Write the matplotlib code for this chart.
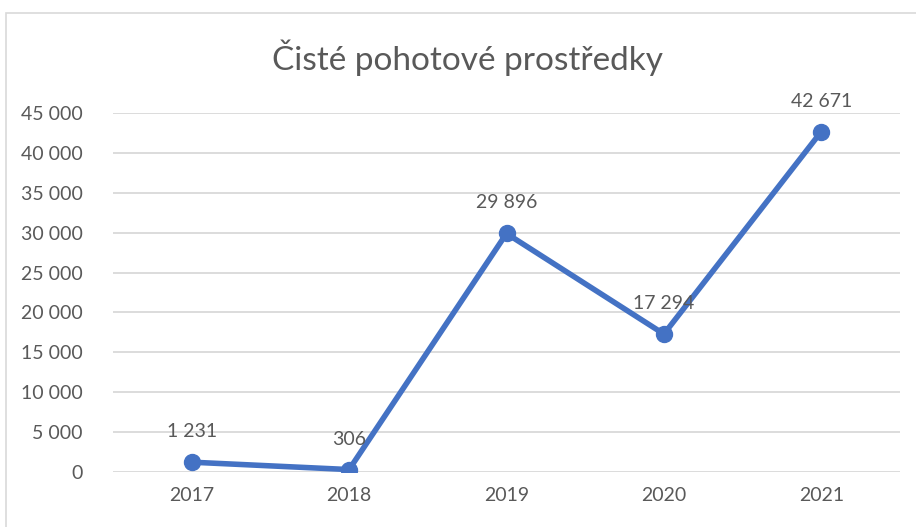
import matplotlib.pyplot as plt
from matplotlib.patches import Rectangle

years = ['2017', '2018', '2019', '2020', '2021']
values = [1231, 306, 29896, 17294, 42671]
labels = ['1 231', '306', '29 896', '17 294', '42 671']
yticks = [0, 5000, 10000, 15000, 20000, 25000, 30000, 35000, 40000, 45000]

plt.rcParams['font.family'] = ['Lato', 'DejaVu Sans']
text_color = '#595959'
line_color = '#4472C4'

fig = plt.figure(figsize=(9.16, 5.27), dpi=100)
W, H = 916, 527
ax = fig.add_axes([113 / W, (H - 472) / H, (900 - 113) / W, (472 - 113) / H])

x = list(range(len(years)))
ax.plot(x, values, color=line_color, linewidth=4, marker='o', markersize=11.5,
        solid_capstyle='round', zorder=3)
for xi, v, lab in zip(x, values, labels):
    ax.annotate(lab, (xi, v), xytext=(0, 22), textcoords='offset points',
                ha='center', va='center', fontsize=14, color=text_color)

ax.set_xlim(-0.5, len(years) - 0.5)
ax.set_ylim(0, 45000)
ax.set_xticks(x)
ax.set_xticklabels(years)
ax.set_yticks(yticks)
ax.set_yticklabels([f'{t:,}'.replace(',', ' ') for t in yticks])
ax.tick_params(length=0, labelsize=14, colors=text_color)
ax.tick_params(axis='y', pad=22)
ax.tick_params(axis='x', pad=11)
ax.grid(axis='y', color='#D9D9D9', linewidth=1.3)
ax.set_axisbelow(True)
for s in ax.spines.values():
    s.set_visible(False)

fig.text(467 / W, (H - 58) / H, 'Čisté pohotové prostředky', ha='center', va='center',
         fontsize=24, color=text_color)

fig.patches.append(Rectangle((6 / W, -0.01), 1.0, (H - 13) / H + 0.01, transform=fig.transFigure,
                             fill=False, edgecolor='#D9D9D9', linewidth=1.2))

fig.savefig('out.png', dpi=100)
